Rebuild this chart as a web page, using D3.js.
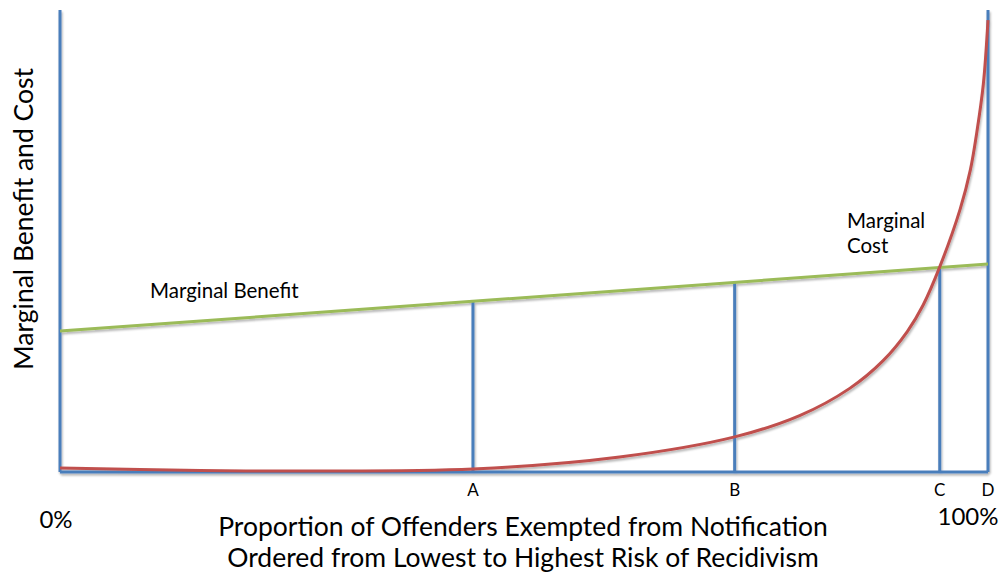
<!DOCTYPE html>
<html>
<head>
<meta charset="utf-8">
<script src="https://cdn.jsdelivr.net/npm/d3@7"></script>
<style>
  body { margin: 0; background: #fff; }
  text { font-family: Lato, "Open Sans", sans-serif; fill: #000; }
</style>
</head>
<body>
<script>
// share of offenders exempted (percent) and cost level (0-100)
var costX = [0, 15.1, 25.9, 44.5, 60.3, 72.7, 79.7, 85.1, 88.7, 91.3, 93.0, 94.8, 97.0, 98.1, 98.8, 99.5, 100];
var costY = [0.87, 0.32, 0.22, 0.65, 3.25, 7.6, 12.2, 18.1, 24.1, 30.4, 36.1, 44.4, 56.9, 65.4, 73.6, 84.0, 97.8];
var benefitX = [0, 100];
var benefitY = [30.5, 45];
var markNames = ['A', 'B', 'C', 'D'];
var markX = [44.5, 72.7, 94.8, 100];

var width = 1003, height = 577;

var svg = d3.select('body').append('svg')
    .attr('width', width)
    .attr('height', height);

var x = d3.scaleLinear().domain([0, 100]).range([60, 988]);
var y = d3.scaleLinear().domain([0, 100]).range([472, 10]);

// leichter schatten wie im original
var shadow = svg.append('defs').append('filter').attr('id', 'shadow')
    .attr('x', '-5%').attr('y', '-5%').attr('width', '110%').attr('height', '110%');
shadow.append('feDropShadow')
    .attr('dx', 1).attr('dy', 2).attr('stdDeviation', 1.2)
    .attr('flood-color', '#000').attr('flood-opacity', 0.3);

var blue = '#4a7ebb', red = '#c0504d', green = '#9bbb59';

var benefitAt = d3.scaleLinear().domain(benefitX).range(benefitY);

var lines = svg.append('g').attr('filter', 'url(#shadow)');

// achsen
lines.append('line')
    .attr('x1', x(0)).attr('x2', x(0))
    .attr('y1', y(100)).attr('y2', y(0))
    .attr('stroke', blue).attr('stroke-width', 3);
lines.append('line')
    .attr('x1', x(0)).attr('x2', x(100))
    .attr('y1', y(0)).attr('y2', y(0))
    .attr('stroke', blue).attr('stroke-width', 3);

// senkrechte markierungen
lines.selectAll('.mark').data(markX)
    .enter().append('line')
    .attr('class', 'mark')
    .attr('x1', function(d) { return x(d); })
    .attr('x2', function(d) { return x(d); })
    .attr('y1', y(0))
    .attr('y2', function(d, i) { return i == markX.length - 1 ? y(100) : y(benefitAt(d)); })
    .attr('stroke', blue).attr('stroke-width', 3);

// nutzen
var benefitLine = d3.line()
    .x(function(d) { return x(d[0]); })
    .y(function(d) { return y(d[1]); });
lines.append('path')
    .datum(d3.zip(benefitX, benefitY))
    .attr('d', benefitLine)
    .attr('fill', 'none').attr('stroke', green).attr('stroke-width', 3);

// kosten
var costLine = d3.line()
    .x(function(d) { return x(d[0]); })
    .y(function(d) { return y(d[1]); })
    .curve(d3.curveCatmullRom.alpha(0.5));
lines.append('path')
    .datum(d3.zip(costX, costY))
    .attr('d', costLine)
    .attr('fill', 'none').attr('stroke', red).attr('stroke-width', 3);

// beschriftungen
svg.selectAll('.markLabel').data(markNames)
    .enter().append('text')
    .attr('class', 'markLabel')
    .attr('x', function(d, i) { return x(markX[i]); })
    .attr('y', 496)
    .attr('text-anchor', 'middle')
    .attr('font-size', 17)
    .text(function(d) { return d; });

svg.append('text').attr('x', 56).attr('y', 528).attr('text-anchor', 'middle')
    .attr('font-size', 24).text('0%');
svg.append('text').attr('x', 968).attr('y', 525).attr('text-anchor', 'middle')
    .attr('font-size', 24).text('100%');

svg.append('text').attr('x', 523).attr('y', 536).attr('text-anchor', 'middle')
    .attr('font-size', 26.5).text('Proportion of Offenders Exempted from Notification');
svg.append('text').attr('x', 523).attr('y', 567).attr('text-anchor', 'middle')
    .attr('font-size', 26.5).text('Ordered from Lowest to Highest Risk of Recidivism');

svg.append('text')
    .attr('transform', 'translate(33,219) rotate(-90)')
    .attr('text-anchor', 'middle')
    .attr('font-size', 26.5)
    .text('Marginal Benefit and Cost');

svg.append('text').attr('x', 150).attr('y', 298).attr('font-size', 20.5).text('Marginal Benefit');
svg.append('text').attr('x', 847).attr('y', 228).attr('font-size', 20.5).text('Marginal');
svg.append('text').attr('x', 847).attr('y', 253).attr('font-size', 20.5).text('Cost');
</script>
</body>
</html>
